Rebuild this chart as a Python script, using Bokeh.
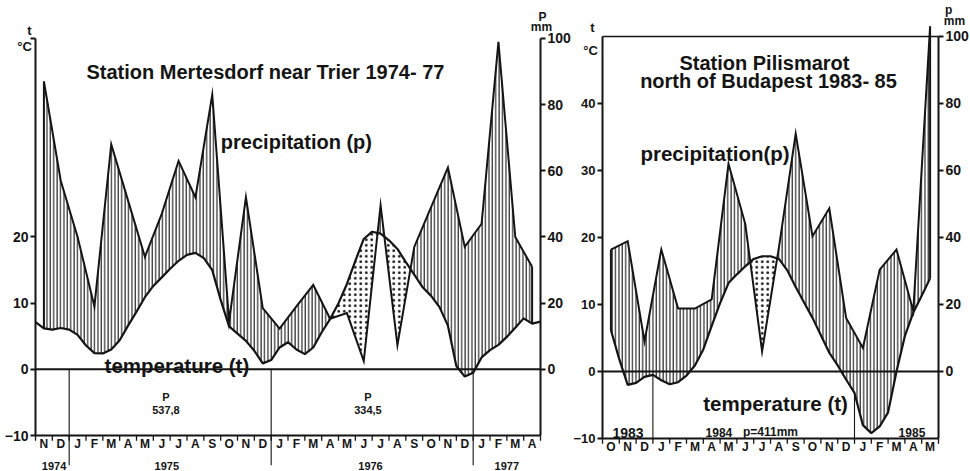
import numpy as np
from bokeh.plotting import figure
from bokeh.models import Range1d, LinearAxis, FixedTicker
from bokeh.layouts import row
from bokeh.embed import file_html
from bokeh.resources import INLINE
from bokeh.core.properties import value

FONT = "Liberation Sans"
INK = "#141414"

# ---------------- Station Mertesdorf (Nov 1974 - Apr 1977) ----------------
months_left = ["N", "D", "J", "F", "M", "A", "M", "J", "J", "A", "S", "O", "N", "D",
               "J", "F", "M", "A", "M", "J", "J", "A", "S", "O", "N", "D",
               "J", "F", "M", "A"]
# monthly precipitation, mm (plotted at month centres)
precip_left = [87, 57, 40, 19, 68, 51, 34, 47, 63, 52, 83, 14.5, 52, 18.5,
               12.3, 19, 25.5, 15.3, 17, 2.5, 49.6, 7.3, 37, 49, 61, 37,
               44, 99, 40, 31]
# temperature, deg C, read every half month from the left axis
temp_left = [7.15, 6.2, 6.0, 6.25, 6.0, 5.2, 3.6, 2.45, 2.4, 3.0, 4.4,
             6.6, 8.7, 10.9, 12.6, 13.9, 15.2, 16.4, 17.3, 17.6, 16.8,
             15.0, 10.5, 6.5, 5.4, 4.3, 2.8, 0.9, 1.4, 3.3, 4.1,
             3.0, 2.3, 3.3, 5.6, 7.6, 10.0, 12.9, 16.4, 19.7, 20.8,
             20.5, 19.5, 18.2, 16.2, 14.3, 12.4, 11.1, 9.4, 6.6, 0.5,
             -1.1, -0.5, 1.8, 2.9, 3.7, 4.9, 6.3, 7.7, 6.9, 7.2]
years_left = ["1974", "1975", "1976", "1977"]
year_pos_left = [1.1, 7.8, 19.9, 28.0]
year_breaks_left = [2, 14, 26]
totals_left = ["537,8", "334,5"]
totals_pos_left = [7.75, 19.75]

# ---------------- Station Pilismarot (Oct 1983 - May 1985) ----------------
months_right = ["O", "N", "D", "J", "F", "M", "A", "M", "J", "J", "A", "S",
                "O", "N", "D", "J", "F", "M", "A", "M"]
precip_right = [36.4, 38.9, 9.0, 36.4, 18.8, 18.8, 21.5, 62, 44, 6, 37, 71,
                40.4, 48.7, 16, 7, 30.4, 36.4, 18, 103]
# temperature, deg C, read every half month from the first month centre
temp_right = [6.2, 1.8, -2.0, -1.7, -0.8, -0.5, -1.3, -1.9, -1.6, -0.6,
              0.9, 3.3, 6.8, 10.2, 13.2, 14.5, 15.7, 16.8, 17.2, 17.2,
              16.8, 15.1, 12.6, 10.3, 8.0, 5.4, 2.8, 0.9, -1.2, -3.2,
              -8.0, -9.2, -8.2, -6.1, 0.0, 5.3, 8.8, 11.3, 13.9]
year_breaks_right = [3, 15]


def between(tx, tv, px, pv):
    """Common x grid of two polylines, with their crossings inserted."""
    lo, hi = px[0], px[-1]
    xs = np.union1d(tx[(tx >= lo) & (tx <= hi)], px)
    t = np.interp(xs, tx, tv)
    pp = np.interp(xs, px, pv)
    d = pp - t
    X, T, P = [xs[0]], [t[0]], [pp[0]]
    for i in range(1, len(xs)):
        if d[i - 1] * d[i] < 0:
            f = d[i - 1] / (d[i - 1] - d[i])
            xc = xs[i - 1] + f * (xs[i] - xs[i - 1])
            yc = t[i - 1] + f * (t[i] - t[i - 1])
            X.append(xc); T.append(yc); P.append(yc)
        X.append(xs[i]); T.append(t[i]); P.append(pp[i])
    return np.array(X), np.array(T), np.array(P)


def style_axis(ax, size):
    ax.axis_line_width = 2
    ax.axis_line_color = INK
    ax.major_tick_line_width = 2
    ax.major_tick_line_color = INK
    ax.major_tick_out = 5
    ax.major_tick_in = 0
    ax.minor_tick_line_color = None
    ax.major_label_text_font = FONT
    ax.major_label_text_font_style = "bold"
    ax.major_label_text_font_size = size
    ax.major_label_text_color = INK
    ax.major_label_standoff = 2


def txt(p, x, y, t, size, align="center", baseline="alphabetic"):
    p.text(x=x, y=y, text=t, text_font=value(FONT), text_font_style="bold",
           text_font_size=size, text_align=align, text_baseline=baseline,
           text_color=INK)


def chart(width, months, precip, temp, temp_x, xr, yr, left_ticks, left_size,
          top_tick):
    n = len(months)
    p = figure(width=width, height=471, x_range=Range1d(*xr),
               y_range=Range1d(*yr), output_backend="svg",
               toolbar_location=None, x_axis_location=None,
               y_axis_location=None, min_border=0)
    p.grid.visible = False
    p.outline_line_color = None
    p.background_fill_color = "white"
    p.border_fill_color = "white"
    p.extra_y_ranges = {"mm": Range1d(2 * yr[0], 2 * yr[1])}

    ticks = list(left_ticks) + ([50] if top_tick else [])
    lax = LinearAxis(ticker=FixedTicker(ticks=ticks), bounds=(-10, 50),
                     fixed_location=0)
    lax.major_label_overrides = {50: ""}
    style_axis(lax, left_size)
    p.add_layout(lax, "left")

    rax = LinearAxis(y_range_name="mm",
                     ticker=FixedTicker(ticks=[0, 20, 40, 60, 80, 100]),
                     bounds=(-20, 100), fixed_location=n)
    style_axis(rax, "14px")
    p.add_layout(rax, "right")

    centres = np.arange(n) + 0.5
    pc = np.array(precip, dtype=float) / 2.0   # 20 mm == 10 degC
    tx = np.asarray(temp_x, dtype=float)
    tv = np.asarray(temp, dtype=float)
    X, T, P = between(tx, tv, centres, pc)

    # humid period: vertical hatching, arid period: dots
    p.varea(x=X, y1=T, y2=np.maximum(P, T), fill_color=None,
            hatch_pattern="|", hatch_color=INK, hatch_scale=3.4,
            hatch_weight=1.1)
    p.varea(x=X, y1=P, y2=np.maximum(T, P), fill_color=None,
            hatch_pattern=".", hatch_color=INK, hatch_scale=5.5,
            hatch_weight=1.2)

    # base lines
    p.segment(x0=[0], y0=[0], x1=[n], y1=[0], line_color=INK, line_width=2)
    p.segment(x0=[0], y0=[-10], x1=[n], y1=[-10], line_color=INK, line_width=2)
    bnd = np.arange(n + 1)
    p.segment(x0=bnd, y0=-10, x1=bnd, y1=-10.8, line_color=INK, line_width=1.3)
    txt(p, centres, -11.3, months, "12px", baseline="middle")

    # curves
    t_first = np.interp(centres[0], tx, tv)
    t_last = np.interp(centres[-1], tx, tv)
    p.segment(x0=[centres[0], centres[-1]], y0=[t_first, t_last],
              x1=[centres[0], centres[-1]], y1=[pc[0], pc[-1]],
              line_color=INK, line_width=2)
    p.line(centres, precip, y_range_name="mm", line_color=INK, line_width=2,
           line_join="miter")
    p.line(tx, tv, line_color=INK, line_width=2.2)
    return p, centres, tx, tv


# ---------------- left chart ----------------
tx_left = np.arange(len(temp_left)) * 0.5
pl, cl, txl, tvl = chart(572, months_left, precip_left, temp_left, tx_left,
                         (-2.079, 31.90), (-15.44, 55.74),
                         [-10, 0, 10, 20], "14px", True)

pl.segment(x0=year_breaks_left, y0=0, x1=year_breaks_left, y1=-14.5,
           line_color=INK, line_width=1.1)
txt(pl, year_pos_left, -14.65, years_left, "11px")
txt(pl, totals_pos_left, -4.25, ["P", "P"], "11px")
txt(pl, totals_pos_left, -6.2, totals_left, "11px")
txt(pl, [13.66], [44.9], ["Station Mertesdorf near Trier 1974- 77"], "20px")
txt(pl, [15.5], [34.3], ["precipitation (p)"], "20px")
txt(pl, [8.4], [0.6], ["temperature (t)"], "20.5px")
txt(pl, [-0.36, -0.65], [51.2, 48.8], ["t", "°C"], "13px", baseline="middle")
txt(pl, [30.12, 30.06], [53.2, 51.7], ["P", "mm"], "12px", baseline="middle")

# ---------------- right chart ----------------
tx_right = 0.5 + np.arange(len(temp_right)) * 0.5
pr, cr, txr, tvr = chart(398, months_right, precip_right, temp_right, tx_right,
                         (-1.786, 21.905), (-14.925, 55.37),
                         [-10, 0, 10, 20, 30, 40], "13px", False)
pr.segment(x0=[0], y0=[50], x1=[len(months_right)], y1=[50],
           line_color=INK, line_width=1.5)
yb = np.interp(year_breaks_right, txr, tvr)
pr.segment(x0=year_breaks_right, y0=yb, x1=year_breaks_right, y1=-10,
           line_color=INK, line_width=1.1)
txt(pr, [1.52], [-9.25], ["1983"], "14px")
txt(pr, [6.93, 10.0, 18.42], [-9.1, -9.1, -9.1], ["1984", "p=411mm", "1985"],
    "12px")
txt(pr, [9.64, 9.88], [46.1, 43.4],
    ["Station Pilismarot", "north of Budapest 1983- 85"], "20px")
txt(pr, [6.7], [32.5], ["precipitation(p)"], "20.5px")
txt(pr, [10.3], [-4.8], ["temperature (t)"], "20.5px")
txt(pr, [-0.6, -0.71], [51.34, 47.9], ["t", "°C"], "13px", baseline="middle")
txt(pr, [20.6, 20.95], [53.9, 52.24], ["p", "mm"], "12px", baseline="middle")

layout = row(pl, pr)
open("out.html", "w").write(file_html(layout, INLINE))
